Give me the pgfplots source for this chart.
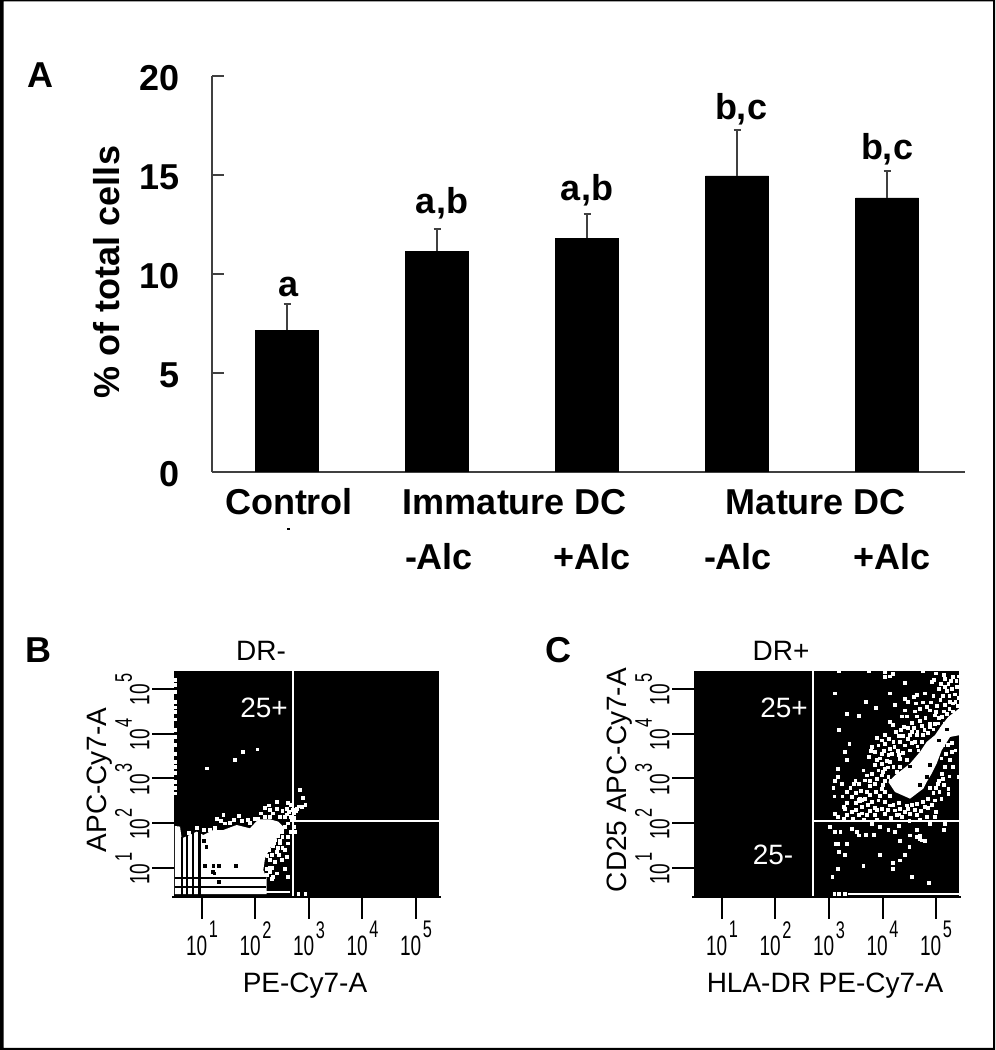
\documentclass[border=0pt]{standalone}
\usepackage{fontspec}
\setmainfont{Liberation Sans}
\usepackage{pgfplots}
\pgfplotsset{compat=1.18}

\definecolor{axgray}{HTML}{404040}
\newcommand{\bigb}{\fontsize{18}{18}\selectfont\bfseries}
\newcommand{\fc}{\fontsize{14}{14}\selectfont}
% flow cytometry tick label: narrow 10 with a raised digit
\newcommand{\tl}[1]{\scalebox{0.68}[1]{\fc 10\kern1.2pt\raisebox{0.62em}{\fontsize{12}{12}\selectfont #1}}}
% text placed in reference pixels (y measured from the top)
\newcommand{\lab}[4][]{\node[inner sep=0pt,#1] at (#2,{1050-#3}) {#4};}

\pgfplotsset{
  flow/.style={
    anchor=south west,
    scale only axis,
    width=132.5pt, height=113pt,
    xmin=0.477, xmax=5.43, ymin=0.352, ymax=5.40,
    axis background/.style={fill=black},
    axis x line*=bottom, axis y line*=left,
    y axis line style={draw=none},
    x axis line style={line width=1.2pt,shorten >=-1pt,shorten <=-1pt},
    axis on top,
    tick align=outside,
    major tick length=11pt,
    tick style={black,line width=1pt},
    xtick={1,2,3,4,5}, ytick={1,2,3,4,5},
    xticklabels={\tl{1},\tl{2},\tl{3},\tl{4},\tl{5}},
    yticklabels={\tl{1},\tl{2},\tl{3},\tl{4},\tl{5}},
    xticklabel style={inner sep=0pt,yshift=-1pt},
    % shifts act in the rotated frame: x is along the text, y across it
    yticklabel style={rotate=90,anchor=south west,inner sep=0pt,xshift=-8.5pt,yshift=1pt},
  },
  dots/.style={only marks,mark=square*,mark size=0.7pt,mark options={draw=#1,fill=#1,line width=0.3pt}},
  gate/.style={white,line width=1.1pt,forget plot},
}

\begin{document}
\begin{tikzpicture}[x=0.5pt,y=0.5pt]
\path[use as bounding box] (0,0) rectangle (996,1050);
\fill[black,even odd rule] (0,0) rectangle (995,1050) (3.5,2) rectangle (993.2,1048.5);

% Panel A
\begin{axis}[
    at={(106pt,289pt)}, anchor=south west,
    scale only axis,
    width=376.5pt, height=198pt,
    xmin=-0.5, xmax=4.52, ymin=0, ymax=20,
    axis x line=bottom, axis y line=left,
    axis line style={-,axgray,line width=0.8pt},
    xtick=\empty,
    ytick={0,5,10,15,20},
    tick align=inside,
    major tick length=6pt,
    tick style={axgray,line width=0.7pt},
    /pgf/number format/assume math mode=true,
    yticklabel style={font=\bigb,inner sep=0pt,xshift=-16pt,yshift=-1pt},
]
\addplot[ybar,bar width=31.5pt,fill=black,draw=black,
    error bars/.cd,y dir=plus,y explicit,
    error bar style={axgray,line width=0.8pt},
    error mark options={rotate=90,axgray,mark size=1.75pt,line width=0.9pt}]
  coordinates {
    (0,7.17)  +- (0,1.31)
    (1,11.16) +- (0,1.11)
    (2,11.8)  +- (0,1.23)
    (3,14.95) +- (0,2.32)
    (4,13.84) +- (0,1.36)
};
\end{axis}

% Panel B
\begin{axis}[flow,at={(87pt,76.5pt)}]
\addplot[fill=white,draw=none] coordinates {
  (0.495,1.938) (0.589,1.923) (0.620,1.662) (0.776,1.737) (0.900,1.811)
  (1.025,1.737) (1.212,1.848) (1.399,1.848) (1.648,1.960) (1.897,1.886)
  (2.053,2.087) (2.271,2.087) (2.427,2.035) (2.551,1.886) (2.396,1.662)
  (2.271,1.439) (2.178,1.215) (2.146,0.955) (2.209,0.768) (2.209,0.418)
  (0.495,0.418)
} --cycle;
% black streaks over the white cloud
\addplot[black,line width=1pt] coordinates {(0.495,0.783) (2.20,0.783)};
\addplot[black,line width=1pt] coordinates {(0.495,0.582) (2.20,0.582)};
\addplot[black,line width=0.9pt] coordinates {(0.62,1.70) (0.62,0.352)};
\addplot[black,line width=0.9pt] coordinates {(0.726,1.75) (0.726,0.352)};
\addplot[black,line width=0.9pt] coordinates {(0.826,1.85) (0.826,0.352)};
\addplot[black,line width=1.3pt] coordinates {(0.95,1.85) (0.95,0.352)};
\addplot[white,line width=0.9pt] coordinates {(2.20,0.47) (2.645,0.47)};
\addplot[dots=black] coordinates {
  (1.06,1.04) (1.21,1.04) (1.32,1.04) (1.63,1.04) (1.20,0.92) (1.23,0.88)
  (1.32,0.69) (1.08,1.48) (1.03,1.60)
};
\addplot[dots=white] coordinates {
  (1.27,2.09) (1.40,2.18) (1.69,2.16) (1.43,2.00) (1.52,2.01) (1.24,1.89)
  (1.15,1.85) (1.03,1.85) (0.90,1.90) (0.76,1.78) (1.90,2.01) (1.99,2.09)
  (2.05,2.11) (2.18,2.35) (2.27,2.30) (2.40,2.48) (2.40,2.33) (2.18,2.15)
  (2.27,2.15) (2.33,2.22) (2.55,2.15) (2.58,2.33) (2.65,2.41) (2.77,2.33)
  (2.83,2.74) (2.89,2.56) (2.93,2.41) (2.86,2.37) (2.71,2.22) (2.68,2.07)
  (2.61,2.00) (2.71,1.92) (2.74,1.81) (2.55,1.92) (2.49,1.81) (2.36,1.62)
  (2.46,1.62) (2.61,1.55) (2.33,1.50) (2.40,1.36) (2.49,1.18) (2.43,1.29)
  (2.27,1.18) (2.21,0.99) (2.27,1.01) (2.55,0.99) (2.36,1.14) (2.21,0.84)
  (2.61,0.80) (2.27,0.92) (2.40,0.88) (2.80,0.43) (2.93,0.43) (2.70,2.30)
  (2.75,2.27) (2.80,2.38) (2.62,2.25) (2.58,2.20) (2.66,2.15) (2.25,1.40)
  (2.30,1.30) (2.45,1.55) (2.50,1.70) (2.30,1.72) (2.22,1.28)
  (2.35,1.55) (2.42,1.45) (2.55,1.40) (2.30,1.00) (2.33,0.80) (2.30,0.75)
  (2.50,1.45) (2.58,1.25) (2.28,1.62) (2.42,1.72) (2.60,1.70) (2.66,1.80)
  (2.35,1.90) (2.45,2.15) (2.50,2.28) (2.72,2.12) (2.60,2.45) (1.75,2.05)
  (1.60,2.08) (1.35,2.05) (1.85,2.08) (2.10,2.22) (2.25,2.40)
  (1.087,3.226) (1.616,3.413) (1.760,3.599) (2.034,3.651)
  (0.49,5.20) (0.49,5.09) (0.49,4.94) (0.49,4.72) (0.49,4.59) (0.49,4.49)
  (0.49,4.32) (0.49,4.08) (0.49,3.93) (0.49,3.75) (0.49,3.55) (0.49,3.38)
  (0.49,3.26) (0.49,3.12) (0.49,2.93) (0.49,2.80) (0.49,2.67)
};
\addplot[gate] coordinates {(2.70,0.352) (2.70,5.40)};
\addplot[gate] coordinates {(2.70,2.05) (5.43,2.05)};
\end{axis}

% Panel C
\begin{axis}[flow,at={(347pt,76.5pt)}]
\addplot[fill=white,draw=none] coordinates {
  (4.109,2.922) (4.234,3.071) (4.514,3.331) (4.701,3.592) (4.826,3.816)
  (4.981,3.965) (5.106,4.188) (5.230,4.375) (5.430,4.561) (5.430,3.965)
  (5.262,3.927) (5.106,3.630) (5.012,3.331) (4.919,3.108) (4.826,2.922)
  (4.763,2.773) (4.514,2.549) (4.234,2.698)
} --cycle;
\addplot[dots=black] coordinates {
  (4.70,2.85) (4.83,3.03) (4.51,3.27) (4.88,3.30) (5.05,3.85) (5.20,4.10)
};
\addplot[white,line width=1pt] coordinates {(3.36,0.43) (5.43,0.43)};
\addplot[dots=white] coordinates {
  (3.19,5.40) (3.74,5.40) (4.05,5.38) (4.76,5.40) (4.05,5.27) (4.14,5.28)
  (4.19,5.34) (4.41,5.14) (4.92,5.16) (4.96,5.21) (5.14,5.31) (5.17,5.23)
  (5.32,5.27) (5.42,5.28) (5.09,5.12) (5.17,5.05) (5.23,5.12) (5.29,5.01)
  (5.39,5.05) (3.11,4.90) (4.14,4.90) (4.64,4.86) (4.79,4.90) (4.95,4.84)
  (4.58,4.82) (4.42,4.78) (4.48,4.71) (3.69,4.71) (4.23,4.64) (3.88,4.58)
  (3.33,4.45) (3.56,4.40) (4.42,4.52) (4.36,4.39) (4.46,4.39) (4.64,4.39)
  (4.83,4.60) (4.88,4.52) (5.08,4.75) (5.17,4.64) (5.26,4.71) (5.36,4.71)
  (4.98,4.41) (5.11,4.37) (5.20,4.45) (5.37,4.34) (4.14,4.26) (4.19,4.19)
  (3.19,4.09) (4.34,4.09) (4.48,4.14) (4.58,4.14) (4.73,4.17) (4.89,4.23)
  (5.04,4.23) (5.17,4.23) (5.11,4.11) (4.05,3.97) (4.20,3.82) (4.33,3.82)
  (4.51,3.97) (4.64,3.97) (4.76,3.97) (3.38,3.78) (3.80,3.70) (3.92,3.74)
  (4.05,3.78) (4.14,3.67) (4.42,3.74) (4.61,3.82) (4.73,3.82) (3.29,3.59)
  (3.86,3.59) (3.98,3.55) (4.11,3.52) (4.30,3.52) (4.51,3.63) (4.67,3.63)
  (3.33,3.41) (3.75,3.48) (3.89,3.41) (3.98,3.33) (4.14,3.37) (4.33,3.44)
  (4.45,3.41) (3.16,3.22) (3.64,3.18) (3.92,3.18) (4.05,3.22) (4.20,3.26)
  (4.33,3.26) (3.70,3.07) (3.16,3.03) (3.98,3.07) (4.11,3.03) (3.11,2.94)
  (3.49,2.94) (3.67,2.96) (3.77,2.94) (4.05,2.94) (5.29,3.59) (5.36,3.63)
  (5.26,3.41) (5.42,3.03) (5.17,3.26) (5.11,3.11) (5.32,3.26)
  (3.85,3.30) (3.78,3.62) (3.95,3.45) (4.02,3.62) (4.08,3.40) (4.18,3.55)
  (4.22,3.70) (4.28,3.62) (4.38,3.58) (4.00,3.15) (4.10,3.25) (4.27,3.15)
  (3.80,3.10) (4.55,3.80) (4.48,3.88) (4.38,3.95) (4.65,3.72) (4.78,4.08)
  (4.85,4.02) (4.95,4.10) (5.00,4.48) (5.05,4.35) (4.70,4.28) (4.80,4.35)
  (4.55,4.25) (5.15,4.50) (5.25,4.55) (5.32,4.50) (5.02,4.62) (4.90,4.70)
  (5.12,4.85) (5.25,4.85) (5.35,4.88) (5.42,4.80)
  (3.90,3.00) (4.00,2.85) (3.85,2.88) (4.15,2.95) (3.95,2.62) (4.05,2.70)
  (3.70,2.70) (3.88,2.70) (3.60,2.72) (3.50,2.68) (3.40,2.80) (3.25,2.60)
  (3.72,2.42) (3.85,2.35) (4.05,2.48) (3.50,2.30) (3.62,2.22) (4.10,2.30)
  (4.30,2.45) (4.48,2.32) (4.55,2.42) (4.72,2.28) (4.85,2.35) (4.92,2.42)
  (4.85,2.55) (4.95,2.68) (5.10,2.55) (5.05,2.95) (5.00,2.80) (5.12,3.00)
  (5.15,2.85) (5.25,3.05) (5.10,3.45) (5.18,3.55) (5.22,3.75) (5.30,3.80)
  (5.12,3.75) (5.02,3.52) (4.65,4.05) (4.88,4.15) (4.98,4.22) (4.55,4.05)
  (4.40,4.15) (4.30,3.95) (4.25,4.05) (4.12,3.88) (3.98,3.85) (3.90,3.90)
  (4.60,4.50) (4.70,4.55) (4.75,4.70) (4.62,4.68) (5.20,4.95) (5.32,4.68)
  (5.40,4.62) (5.05,5.00) (5.28,5.18) (5.38,5.18) (5.00,5.35)
  (3.08,2.79) (3.24,2.88) (3.33,2.71) (3.10,2.60) (3.46,2.88) (3.55,2.88)
  (3.77,2.83) (3.98,2.77) (4.14,2.61) (3.77,2.64) (3.42,2.59) (3.67,2.55)
  (3.58,2.49) (3.33,2.46) (3.30,2.33) (3.11,2.21) (3.17,2.14) (3.27,2.36)
  (3.61,2.36) (3.80,2.48) (3.92,2.51) (3.98,2.33) (3.77,2.27) (3.55,2.18)
  (3.42,2.25) (3.33,2.18) (3.27,2.10) (4.14,2.40) (4.05,2.21) (3.86,2.18)
  (3.70,2.18) (4.23,2.29) (4.33,2.33) (4.45,2.40) (4.64,2.44) (4.76,2.48)
  (4.27,2.18) (4.36,2.14) (4.51,2.21) (4.64,2.18) (4.79,2.36) (4.98,2.51)
  (5.00,2.25) (4.98,2.14) (4.83,2.14) (5.23,2.77) (5.23,2.66) (5.06,2.71)
  (4.89,2.79) (5.04,2.88) (3.58,2.55) (3.62,2.52) (3.55,2.52) (3.50,2.45)
  (3.90,2.30) (4.30,2.20) (4.42,2.25) (4.60,2.30) (4.20,2.42) (3.45,2.10)
  (3.65,2.08) (3.90,2.08) (4.15,2.12) (4.50,2.05) (4.70,2.08)
  (3.02,1.92) (3.11,1.80) (3.21,1.80) (3.42,1.88) (3.52,1.80) (3.55,1.73)
  (3.69,1.74) (3.83,1.74) (3.95,1.92) (4.11,1.86) (4.23,1.80) (4.30,1.95)
  (4.51,1.73) (4.64,1.86) (4.64,1.69) (4.70,1.73) (4.79,1.60) (4.73,1.62)
  (4.69,1.65) (4.33,1.60) (4.50,1.48) (3.13,1.54) (3.16,1.54) (3.33,1.54)
  (3.19,1.36) (3.29,1.30) (3.95,1.30) (4.41,1.30) (4.33,1.17) (4.19,1.11)
  (4.19,0.98) (3.64,1.04) (3.16,0.98) (3.06,0.80) (4.55,0.80) (4.86,0.67)
  (5.14,1.86) (5.17,1.99) (4.89,1.99) (3.80,1.99) (3.10,0.43) (3.19,0.43)
  (3.29,0.43)
};
\addplot[gate] coordinates {(2.70,0.352) (2.70,5.40)};
\addplot[gate] coordinates {(2.70,2.05) (5.43,2.05)};
\end{axis}

% Panel letters and significance labels
\lab[font=\bigb]{40}{75}{A}
\lab[font=\bigb]{38}{650}{B}
\lab[font=\bigb]{558}{650}{C}
\lab[font=\bigb,rotate=90]{107}{272}{\% of total cells}
\lab[font=\bigb,anchor=base]{289}{297}{a}
\lab[font=\bigb,anchor=base]{442}{214}{a,b}
\lab[font=\bigb,anchor=base]{587}{201}{a,b}
\lab[font=\bigb,anchor=base]{741}{120}{b,c}
\lab[font=\bigb,anchor=base]{887}{160}{b,c}
\lab[font=\bigb]{289}{502}{Control}
\lab[font=\bigb]{515}{502}{Immature DC}
\lab[font=\bigb]{816}{502}{Mature DC}
\lab[font=\bigb]{439}{557}{-Alc}
\lab[font=\bigb]{592}{557}{+Alc}
\lab[font=\bigb]{738}{557}{-Alc}
\lab[font=\bigb]{892}{557}{+Alc}
\fill[black] (286.5,520) rectangle (289.5,522);

% Flow plot captions
\lab[font=\fc]{261}{651}{DR-}
\lab[font=\fc]{781}{651}{DR+}
\lab[font=\fc]{305}{986}{PE-Cy7-A}
\lab[font=\fc]{825}{986}{HLA-DR PE-Cy7-A}
\lab[font=\fc,rotate=90]{100}{780}{APC-Cy7-A}
\lab[font=\fc,rotate=90]{620}{780}{CD25 APC-Cy7-A}
\lab[font=\fc,text=white]{264}{708}{25+}
\lab[font=\fc,text=white]{784}{708}{25+}
\lab[font=\fc,text=white]{773}{855}{25-}
\end{tikzpicture}
\end{document}
